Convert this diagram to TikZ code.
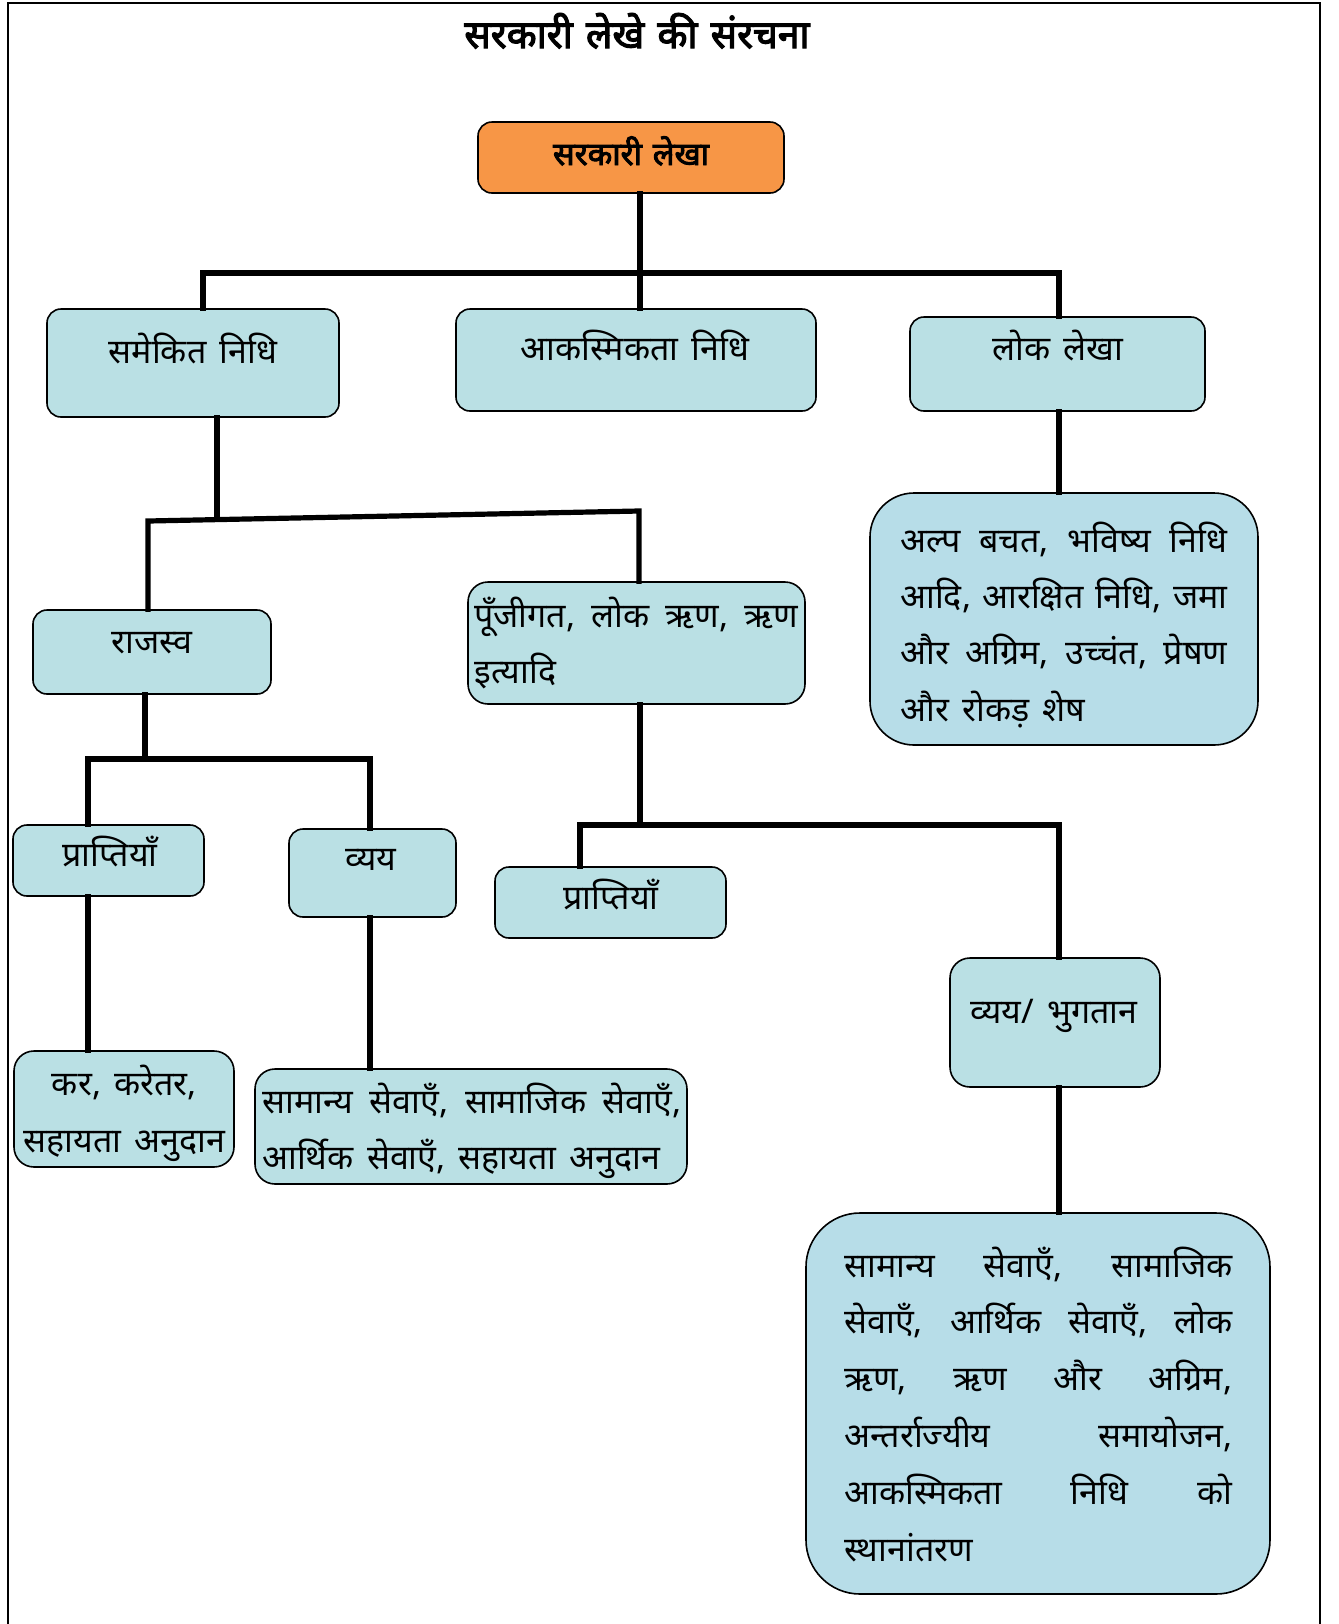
\documentclass[tikz,border=0pt]{standalone}
\usepackage{fontspec}
\setmainfont[Script=Devanagari, WordSpace=1.5]{Noto Sans}
\newfontfamily\hbold[Script=Devanagari, FakeBold=3, WordSpace=1.3]{Noto Sans}
\usetikzlibrary{fit,calc}
\definecolor{boxblue}{HTML}{BAE0E4}
\definecolor{boxblue2}{HTML}{B7DDE8}
\definecolor{rootorange}{HTML}{F79646}
\newcommand\jline[1]{\hbox to \linewidth{#1}}
\newcommand\lastln[1]{\hbox to \linewidth{#1\hfill}}
\begin{document}
\begin{tikzpicture}[x=0.5pt,y=-0.5pt,
  box/.style={draw=black, line width=0.8pt, fill=boxblue, rounded corners=7pt, inner sep=0pt},
  bigbox/.style={box, fill=boxblue2},
  conn/.style={line width=2.6pt, line join=miter, line cap=rect},
  txt/.style={inner sep=0pt, anchor=base, font=\fontsize{17}{20}\selectfont},
  btxt/.style={inner sep=0pt, anchor=base west, font=\fontsize{17}{28.2}\selectfont}]
\useasboundingbox (0,0) rectangle (1339,1624);
% frame
\draw[line width=1pt] (7.5,1624) -- (7.5,2.5) -- (1320,2.5) -- (1320,1624);
% title
\node[txt, font=\fontsize{19.5}{22}\hbold] (title) at (637,48) {सरकारी लेखे की संरचना};
% boxes
\node[box, fill=rootorange, fit={(478,122) (784,193)}] (root) {};
\node[box, fit={(47,309) (339,417)}] (sam) {};
\node[box, fit={(456,309) (816,411)}] (akas) {};
\node[box, fit={(910,317) (1205,411)}] (lok) {};
\node[bigbox, rounded corners=22pt, fit={(870,493) (1258,745)}] (lokd) {};
\node[box, fit={(33,610) (271,694)}] (raj) {};
\node[box, rounded corners=10pt, fit={(468,582) (805,704)}] (punj) {};
\node[box, fit={(13,825) (204,896)}] (prL) {};
\node[box, fit={(289,829) (456,917)}] (vyay) {};
\node[box, rounded corners=10pt, fit={(14,1051) (234,1167)}] (kar) {};
\node[box, rounded corners=10pt, fit={(255,1069) (687,1184)}] (samL) {};
\node[box, fit={(495,867) (726,938)}] (prM) {};
\node[box, rounded corners=10pt, fit={(950,958) (1160,1087)}] (bhug) {};
\node[bigbox, rounded corners=27pt, fit={(806,1213) (1270,1594)}] (bigR) {};
% texts
\node[txt, font=\fontsize{16}{18}\hbold] (rootT) at (631,165) {सरकारी लेखा};
\node[txt] (samT) at (193,363) {समेकित निधि};
\node[txt] (akasT) at (635,360) {आकस्मिकता निधि};
\node[txt] (lokT) at (1058,360) {लोक लेखा};
\node[txt] (rajT) at (152,653) {राजस्व};
\node[txt] (prLT) at (110,866) {प्राप्तियाँ};
\node[txt] (vyayT) at (371,870) {व्यय};
\node[txt] (prMT) at (611,909) {प्राप्तियाँ};
\node[txt] (bhugT) at (1054,1023) {व्यय/ भुगतान};
\node[btxt] (punjT) at (474,627) {\parbox[t]{162pt}{\baselineskip=28pt
  \jline{पूँजीगत,\hfill लोक\hfill ऋण,\hfill ऋण}
  \lastln{इत्यादि}}};
\node[btxt] (karT) at (14,1095) {\parbox[t]{110pt}{\centering\baselineskip=28.5pt
  कर, करेतर,\\सहायता अनुदान\par}};
\node[btxt] (samLT) at (262,1113) {\parbox[t]{209.5pt}{\baselineskip=28pt
  \jline{सामान्य\hfill सेवाएँ,\hfill सामाजिक\hfill सेवाएँ,}
  \lastln{आर्थिक सेवाएँ, सहायता अनुदान}}};
\node[btxt] (lokdT) at (900,552) {\parbox[t]{163.5pt}{\baselineskip=28.2pt
  \jline{अल्प\hfill बचत,\hfill भविष्य\hfill निधि}
  \jline{आदि,\hfill आरक्षित\hfill निधि,\hfill जमा}
  \jline{और\hfill अग्रिम,\hfill उच्चंत,\hfill प्रेषण}
  \lastln{और रोकड़ शेष}}};
\node[btxt] (bigRT) at (844,1277) {\parbox[t]{194pt}{\baselineskip=28.4pt
  \jline{सामान्य\hfill सेवाएँ,\hfill सामाजिक}
  \jline{सेवाएँ,\hfill आर्थिक\hfill सेवाएँ,\hfill लोक}
  \jline{ऋण,\hfill ऋण\hfill और\hfill अग्रिम,}
  \jline{अन्तर्राज्यीय\hfill समायोजन,}
  \jline{आकस्मिकता\hfill निधि\hfill को}
  \lastln{स्थानांतरण}}};
% junctions
\coordinate (j0) at (640,273);
\coordinate (jL) at (203,273);
\coordinate (jR) at (1059,273);
\coordinate (k0) at (217,519);
\coordinate (kL) at (148,521);
\coordinate (kR) at (639,511);
\coordinate (l0) at (145,759);
\coordinate (lL) at (88,759);
\coordinate (lR) at (370,759);
\coordinate (m0) at (640,825);
\coordinate (mL) at (580,825);
\coordinate (mR) at (1059,825);
% connectors
\draw[conn] (root.south -| j0) -- (j0);
\draw[conn] (sam.north -| jL) -- (jL) -- (jR) -- (lok.north -| jR);
\draw[conn] (j0) -- (akas.north -| j0);
\draw[conn] (lok.south -| jR) -- (lokd.north -| jR);
\draw[conn] (sam.south -| k0) -- (k0);
\draw[conn] (raj.north -| kL) -- (kL) -- (kR) -- (punj.north -| kR);
\draw[conn] (raj.south -| l0) -- (l0);
\draw[conn] (prL.north -| lL) -- (lL) -- (lR) -- (vyay.north -| lR);
\draw[conn] (prL.south -| lL) -- (kar.north -| lL);
\draw[conn] (vyay.south -| lR) -- (samL.north -| lR);
\draw[conn] (punj.south -| m0) -- (m0);
\draw[conn] (prM.north -| mL) -- (mL) -- (mR) -- (bhug.north -| mR);
\draw[conn] (bhug.south -| mR) -- (bigR.north -| mR);
\end{tikzpicture}
\end{document}
